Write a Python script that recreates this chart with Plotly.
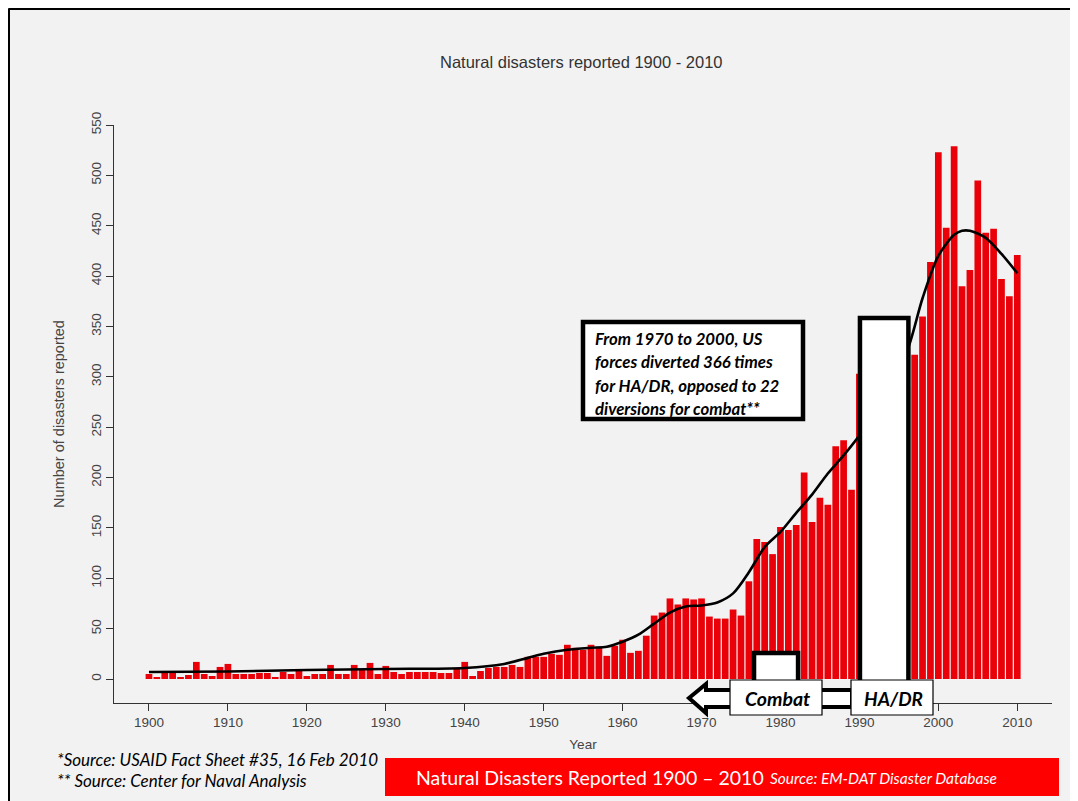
import plotly.graph_objects as go

# ---------------- data ----------------
years = list(range(1900, 2011))
disasters = [
    5, 2, 6, 6, 2, 4, 17, 5, 3, 12,          # 1900-1909
    15, 5, 5, 5, 6, 6, 2, 7, 5, 8,           # 1910-1919
    3, 5, 5, 14, 5, 5, 14, 10, 16, 5,        # 1920-1929
    13, 7, 5, 7, 7, 7, 7, 6, 6, 10,          # 1930-1939
    17, 3, 8, 11, 12, 12, 14, 12, 22, 22,    # 1940-1949
    22, 25, 24, 34, 31, 29, 34, 31, 23, 33,  # 1950-1959
    39, 26, 28, 43, 63, 66, 80, 74, 80, 79,  # 1960-1969
    80, 62, 60, 60, 69, 63, 97, 139, 136, 124,   # 1970-1979
    151, 148, 153, 205, 156, 180, 173, 231, 237, 188,  # 1980-1989
    303, 280, 255, 270, 265, 275, 290, 322, 360, 414,  # 1990-1999
    523, 448, 529, 390, 406, 495, 443, 447, 397, 380,  # 2000-2009
    421,                                      # 2010
]

trend_years = [1900, 1910, 1920, 1930, 1940, 1945, 1948, 1950, 1953, 1956,
               1958, 1960, 1962, 1964, 1966, 1968, 1970, 1972, 1974, 1976,
               1978, 1980, 1982, 1984, 1986, 1988, 1990, 1992, 1994, 1996,
               1998, 2000, 2002, 2003, 2004, 2006, 2008, 2010]
trend_vals = [7, 7.5, 9, 10, 11, 15, 21, 25, 29, 31,
              32, 37, 44, 55, 66, 72, 73, 76, 85, 106,
              131, 146, 165, 183, 204, 222, 242, 270, 300, 325,
              378, 420, 441, 445, 445, 438, 422, 403]

x_ticks = list(range(1900, 2011, 10))
y_ticks = list(range(0, 551, 50))

title_text = "Natural disasters reported 1900 - 2010"
x_title = "Year"
y_title = "Number of disasters reported"
note_lines = [
    "From 1970 to 2000, US",
    "forces diverted 366 times",
    "for HA/DR, opposed to 22",
    "diversions for combat**",
]
footnotes = ["*Source: USAID Fact Sheet #35, 16 Feb 2010",
             "** Source: Center for Naval Analysis"]
banner_main = "Natural Disasters Reported 1900 \u2013 2010"
banner_src = "Source: EM-DAT Disaster Database"

# ---------------- layout helpers ----------------
W, H = 1078, 801
OFF = 8                             # page body margin
L, R, T, B = 114, 1052, 125, 703    # plot area in screen pixels


def px(x):
    return (x - L) / (R - L)


def py(y):
    return (B - y) / (B - T)


BG = "#f2f2f2"
BAR = "#ea0008"
AX = "#333333"

fig = go.Figure()
fig.add_trace(go.Bar(x=years, y=disasters, marker=dict(color=BAR, line=dict(width=0)),
                     hoverinfo="x+y", showlegend=False))
fig.add_trace(go.Scatter(x=trend_years, y=trend_vals, mode="lines",
                         line=dict(color="black", width=2.6, shape="spline", smoothing=0.8),
                         hoverinfo="skip", showlegend=False))

shapes = []
# outer frame
for (a, b, c, d) in [(8.5, 8.5, 8.5, H + 20), (8.5, 8.5, 1071.5, 8.5), (1071.5, 8.5, 1071.5, 700)]:
    shapes.append(dict(type="line", xref="paper", yref="paper", x0=px(a), y0=py(b), x1=px(c), y1=py(d),
                       line=dict(color="black", width=3)))

# HA/DR and Combat white bars (data coords)
shapes.append(dict(type="rect", xref="x", yref="y", x0=1990.07, x1=1996.21, y0=-10, y1=358.5,
                   fillcolor="white", line=dict(color="black", width=4.5), layer="above"))
shapes.append(dict(type="rect", xref="x", yref="y", x0=1976.65, x1=1982.23, y0=-10, y1=25.8,
                   fillcolor="white", line=dict(color="black", width=4.5), layer="above"))

# outlined left arrow
pts = [(689, 698), (706, 684), (706, 690), (852, 690), (852, 707), (706, 707), (706, 713)]
path = "M " + " L ".join(f"{px(a)},{py(b)}" for a, b in pts) + " Z"
shapes.append(dict(type="path", xref="paper", yref="paper", path=path,
                   fillcolor="white", line=dict(color="black", width=4), layer="above"))

# label boxes
for (a, b, c, d) in [(730, 680, 822, 715), (851, 680, 933, 715)]:
    shapes.append(dict(type="rect", xref="paper", yref="paper", x0=px(a), x1=px(c), y0=py(d), y1=py(b),
                       fillcolor="white", line=dict(color="black", width=1.2), layer="above"))

# note box
shapes.append(dict(type="rect", xref="paper", yref="paper", x0=px(583), x1=px(803), y0=py(419), y1=py(322),
                   fillcolor="white", line=dict(color="black", width=4.5), layer="above"))

# red banner
shapes.append(dict(type="rect", xref="paper", yref="paper", x0=px(385), x1=px(1059), y0=py(796), y1=py(758),
                   fillcolor="#fe0000", line=dict(width=0), layer="above"))

ann = []
ann.append(dict(text=title_text, xref="paper", yref="paper", x=px(581), y=py(62), showarrow=False,
                font=dict(family="Liberation Sans, Arial", size=16.5, color="#333333"),
                xanchor="center", yanchor="middle"))
for i, line in enumerate(note_lines):
    ann.append(dict(text=f"<b><i>{line}</i></b>", xref="paper", yref="paper", x=px(593), y=py(338 + i * 23.5),
                    showarrow=False, xanchor="left", yanchor="middle",
                    font=dict(family="Lato", size=16.8, color="black")))
ann.append(dict(text="<b><i>Combat</i></b>", xref="paper", yref="paper", x=px(777), y=py(698),
                showarrow=False, xanchor="center", yanchor="middle",
                font=dict(family="Lato", size=19.5, color="black")))
ann.append(dict(text="<b><i>HA/DR</i></b>", xref="paper", yref="paper", x=px(893), y=py(698),
                showarrow=False, xanchor="center", yanchor="middle",
                font=dict(family="Lato", size=19, color="black")))
for i, line in enumerate(footnotes):
    ann.append(dict(text=f"<i>{line}</i>", xref="paper", yref="paper", x=px(55), y=py(759 + i * 21),
                    showarrow=False, xanchor="left", yanchor="middle",
                    font=dict(family="Lato", size=17, color="black")))
ann.append(dict(text=banner_main, xref="paper", yref="paper", x=px(414), y=py(777),
                showarrow=False, xanchor="left", yanchor="middle",
                font=dict(family="Lato", size=19.5, color="white")))
ann.append(dict(text=f"<i>{banner_src}</i>", xref="paper", yref="paper", x=px(768), y=py(778),
                showarrow=False, xanchor="left", yanchor="middle",
                font=dict(family="Lato", size=15.5, color="white")))

fig.update_layout(
    width=W, height=H,
    margin=dict(l=L - OFF, r=W - (R - OFF), t=T - OFF, b=H - (B - OFF), pad=0),
    paper_bgcolor=BG, plot_bgcolor=BG,
    bargap=0.15,
    shapes=shapes, annotations=ann,
    xaxis=dict(range=[1895.57, 2014.4], tickmode="array", tickvals=x_ticks,
               ticks="outside", ticklen=7, tickcolor=AX, showline=True, linecolor=AX, linewidth=1,
               showgrid=False, zeroline=False,
               tickfont=dict(family="Liberation Sans, Arial", size=13.5, color="#444444"),
               title=dict(text=x_title, standoff=10,
                          font=dict(family="Liberation Sans, Arial", size=13.5, color="#444444"))),
    yaxis=dict(range=[-23.8, 550], tickmode="array", tickvals=y_ticks, tickangle=-90,
               ticks="outside", ticklen=7, tickcolor=AX, showline=True, linecolor=AX, linewidth=1,
               showgrid=False, zeroline=False,
               tickfont=dict(family="Liberation Sans, Arial", size=13.5, color="#444444"),
               title=dict(text=y_title, standoff=20,
                          font=dict(family="Liberation Sans, Arial", size=14.5, color="#444444"))),
)

fig.write_html("out.html")
